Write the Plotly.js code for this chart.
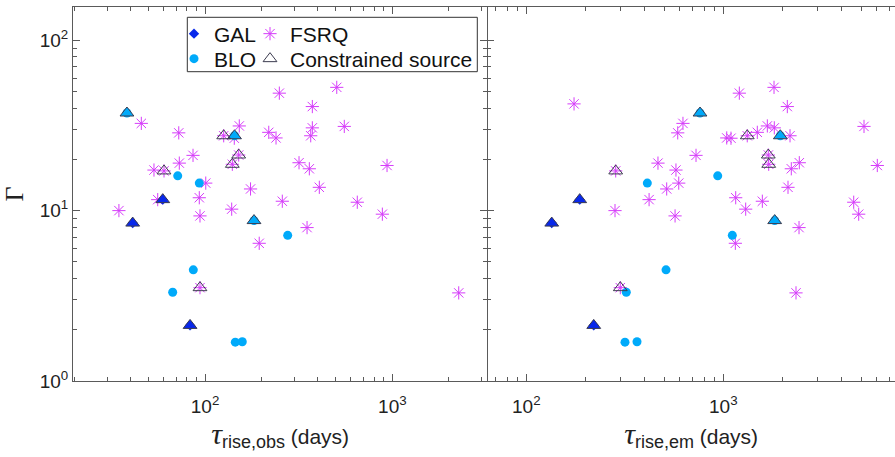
<!DOCTYPE html>
<html><head><meta charset="utf-8">
<script src="https://cdn.plot.ly/plotly-3.0.1.min.js"></script>
<style>html,body{margin:0;padding:0;background:#fff}#chart{width:895px;height:457px}</style>
</head><body><div id="chart"></div>
<script>
// ---- data ----
// GAL
const galGamma = [8.45, 11.6, 2.12];
const galTauObs = [41.1, 59.5, 83.2];
const galTauEm = [134.6, 186.7, 219.9];
const galConstrained = [true, true, true];
// BLO
const bloGamma = [37.4, 27.5, 8.74, 16.0, 14.5, 7.16, 4.49, 3.32, 1.69, 1.70];
const bloTauObs = [38.3, 143.7, 182.6, 71.5, 93.2, 276.3, 86.6, 67.2, 145.1, 158.1];
const bloTauEm = [761.7, 1947, 1823, 936.8, 411.4, 1111, 511.9, 321.8, 316.9, 364.7];
const bloConstrained = [true, true, true, false, false, false, false, false, false, false];
// FSRQ
const fsrqGamma = [10.0, 32.5, 17.3, 11.6, 28.6, 19.0, 21.1, 11.9, 9.31, 14.5,
  10.2, 26.6, 31.4, 13.4, 6.43, 28.8, 26.7, 48.9, 11.35, 19.1,
  7.95, 17.6, 27.5, 40.8, 30.6, 13.7, 52.9, 31.2, 11.2, 9.53,
  18.4, 3.29, 42.3, 17.1, 3.53, 27.5, 18.7, 21.2];
const fsrqTauObs = [34.7, 45.7, 53.4, 55.9, 72.4, 72.9, 86.3, 93.2, 94.0, 100.9,
  138.8, 143.3, 152.4, 175, 194.7, 218.9, 239.4, 249.3, 258.6, 317.6,
  350.5, 360.5, 366.7, 374, 374, 407.6, 505, 554, 650, 884.5,
  937, 2262, null, 60.4, 94.0, 125.8, 139.9, 151.3];
const fsrqTauEm = [282, 624, 575, 420, 587, 466, 727, 1156, 569, 594,
  1299, 1094, 1673, 516, 1151, 1488, 1041, 1206, 1578, 2431,
  2423, 2214, 2181, 2113, 1815, 2130, 1809, 5178, 4591, 4867,
  6049, 2339, 174.7, 284.3, 300, 1323, 1700, 1692];
const fsrqConstrained = fsrqGamma.map((v, i) => i >= 33);
// tick labels
const yTickVals = [1, 10, 100];
const yTickText = ['10<sup>0</sup>', '10<sup>1</sup>', '10<sup>2</sup>'];
const xTickVals = [100, 1000];
const xTickText = ['10<sup>2</sup>', '10<sup>3</sup>'];

// ---- styles ----
const cGAL = 'rgb(8,40,235)';
const cBLO = 'rgb(0,170,250)';
const cFSRQ = 'rgb(214,60,250)';
const cTri = 'rgb(60,60,80)';
const axCol = '#5a5a5a';
const sans = 'Liberation Sans, Arial, Helvetica, sans-serif';
const serif = 'Liberation Serif, Times New Roman, serif';

const minorVals = [];
for (let d = 0; d <= 4; d++) for (let k = 2; k <= 9; k++) minorVals.push(k * Math.pow(10, d));

function sel(arr, mask) { return arr.filter((v, i) => mask[i]); }

function panelTraces(xKey, xa, ya, showLeg) {
  const g = { GAL: xKey === 'obs' ? galTauObs : galTauEm,
              BLO: xKey === 'obs' ? bloTauObs : bloTauEm,
              FSRQ: xKey === 'obs' ? fsrqTauObs : fsrqTauEm };
  return [
    { type: 'scatter', mode: 'markers', name: 'FSRQ', x: g.FSRQ, y: fsrqGamma, xaxis: xa, yaxis: ya,
      legend: 'legend3', showlegend: showLeg,
      marker: { symbol: 'asterisk', size: 11, color: cFSRQ, line: { color: cFSRQ, width: 1 } } },
    { type: 'scatter', mode: 'markers', name: 'BLO', x: g.BLO, y: bloGamma, xaxis: xa, yaxis: ya,
      legend: 'legend2', showlegend: showLeg,
      marker: { symbol: 'circle', size: 9, color: cBLO, line: { width: 0 } } },
    { type: 'scatter', mode: 'markers', name: 'GAL', x: g.GAL, y: galGamma, xaxis: xa, yaxis: ya,
      legend: 'legend', showlegend: showLeg,
      marker: { symbol: 'diamond', size: 8, color: cGAL, line: { width: 0 } } },
    { type: 'scatter', mode: 'markers', name: 'GAL constrained', x: sel(g.GAL, galConstrained), y: sel(galGamma, galConstrained),
      xaxis: xa, yaxis: ya, showlegend: false,
      marker: { symbol: 'triangle-up', size: 12, color: cGAL, line: { color: cTri, width: 1 } } },
    { type: 'scatter', mode: 'markers', name: 'BLO constrained', x: sel(g.BLO, bloConstrained), y: sel(bloGamma, bloConstrained),
      xaxis: xa, yaxis: ya, showlegend: false,
      marker: { symbol: 'triangle-up', size: 12, color: cBLO, line: { color: cTri, width: 1 } } },
    { type: 'scatter', mode: 'markers', name: 'Constrained source', x: sel(g.FSRQ, fsrqConstrained), y: sel(fsrqGamma, fsrqConstrained),
      xaxis: xa, yaxis: ya, legend: 'legend4', showlegend: showLeg,
      marker: { symbol: 'triangle-up-open', size: 12, color: cTri, line: { color: cTri, width: 1 } } }
  ];
}

const data = panelTraces('obs', 'x', 'y', true).concat(panelTraces('em', 'x2', 'y2', false));

const baseAxis = {
  type: 'log', showline: true, linecolor: axCol, linewidth: 1, ticks: 'inside', ticklen: 7,
  tickwidth: 1, tickcolor: axCol, showgrid: false, zeroline: false, tickmode: 'array',
  tickfont: { family: sans, size: 19, color: '#222' },
  minor: { ticks: 'inside', ticklen: 4, tickwidth: 1, tickcolor: axCol, tickmode: 'array', tickvals: minorVals, showgrid: false }
};
const xTitle = (sub) => '<span style="font-family:Liberation Serif;font-style:italic;font-size:30px">τ</span><sub><span style="font-size:18px">' + sub + '</span></sub> (days)';

const split = 414.3 / 822;
const px2x = (p) => (p - 73) / 822;
const px2y = (p) => (381 - p) / 374;
const legBase = { xanchor: 'left', yanchor: 'top', bgcolor: 'rgba(0,0,0,0)', borderwidth: 0,
  font: { family: sans, size: 21, color: '#111' } };
const layout = {
  width: 895, height: 457,
  margin: { l: 73, r: 0, t: 7, b: 76 },
  paper_bgcolor: '#fff', plot_bgcolor: '#fff',
  showlegend: true,
  xaxis: Object.assign({}, baseAxis, { domain: [0, split], range: [1.2952, 3.507], anchor: 'y', mirror: 'allticks',
    tickvals: xTickVals, ticktext: xTickText, ticklabelstandoff: 8,
    title: { text: xTitle('rise,obs'), font: { family: sans, size: 21, color: '#222' }, standoff: 10 } }),
  yaxis: Object.assign({}, baseAxis, { domain: [0, 1], range: [0, 2.195], anchor: 'x', mirror: 'allticks',
    tickvals: yTickVals, ticktext: yTickText,
    title: { text: 'Γ', font: { family: serif, size: 26, color: '#222' }, standoff: 8 } }),
  xaxis2: Object.assign({}, baseAxis, { domain: [split, 1], range: [1.802, 3.8715], anchor: 'y2', mirror: 'allticks',
    tickvals: xTickVals, ticktext: xTickText, ticklabelstandoff: 8,
    title: { text: xTitle('rise,em'), font: { family: sans, size: 21, color: '#222' }, standoff: 10 } }),
  yaxis2: Object.assign({}, baseAxis, { domain: [0, 1], range: [0, 2.195], anchor: 'x2', mirror: false, showline: false,
    tickvals: yTickVals, ticktext: yTickText, showticklabels: false }),
  legend:  Object.assign({}, legBase, { x: px2x(174), y: px2y(13.5) }),
  legend2: Object.assign({}, legBase, { x: px2x(174), y: px2y(38.5) }),
  legend3: Object.assign({}, legBase, { x: px2x(250), y: px2y(13.5) }),
  legend4: Object.assign({}, legBase, { x: px2x(250), y: px2y(38.5) }),
  shapes: [{ type: 'rect', xref: 'paper', yref: 'paper', layer: 'above',
    x0: px2x(187.3), x1: px2x(477.3), y0: px2y(71.7), y1: px2y(17.3),
    line: { color: '#333', width: 1 }, fillcolor: '#fff' }]
};

Plotly.newPlot('chart', data, layout, { staticPlot: true, displayModeBar: false });
</script>
</body></html>
